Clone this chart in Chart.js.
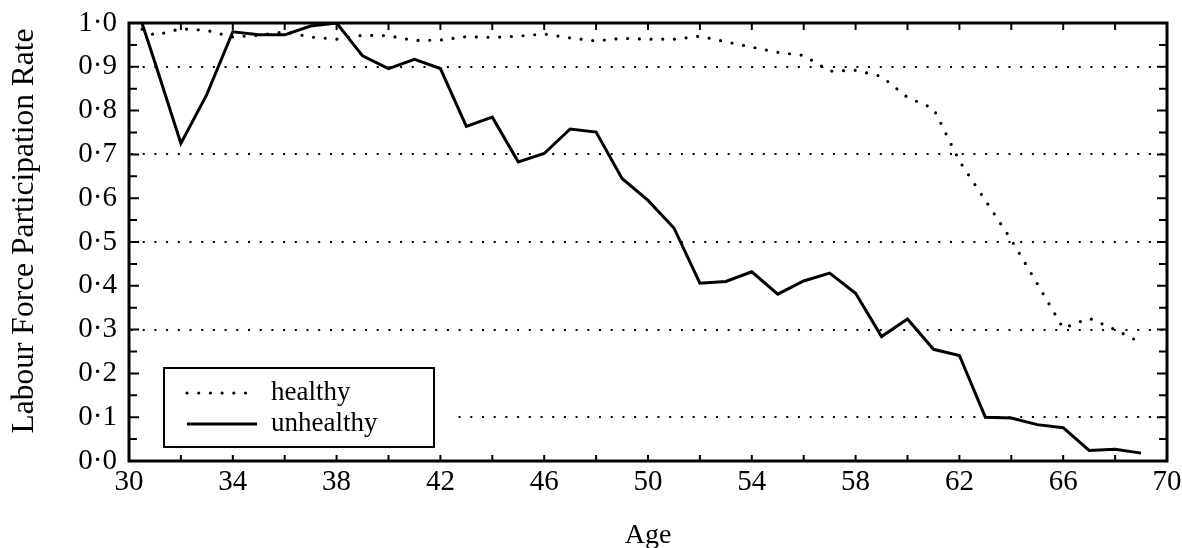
<!DOCTYPE html>
<html>
<head>
<meta charset="utf-8">
<title>Labour force participation by age</title>
<script src="https://cdn.jsdelivr.net/npm/chart.js@4.4.1/dist/chart.umd.min.js"></script>
<style>
  html, body { margin: 0; padding: 0; background: #fff; }
  #wrap { width: 1182px; height: 548px; }
</style>
</head>
<body>
<div id="wrap"><canvas id="chart" width="1182" height="548"></canvas></div>
<script>
// ---- Data ----
const ages = [30.5, 31, 32, 33, 34, 35, 36, 37, 38, 39, 40, 41, 42, 43, 44, 45, 46, 47, 48, 49,
  50, 51, 52, 53, 54, 55, 56, 57, 58, 59, 60, 61, 62, 63, 64, 65, 66, 67, 68, 69];
const healthy = [0.986, 0.972, 0.987, 0.983, 0.968, 0.972, 0.980, 0.968, 0.963, 0.972,
  0.971, 0.960, 0.961, 0.969, 0.967, 0.970, 0.975, 0.966, 0.959, 0.965,
  0.963, 0.963, 0.970, 0.957, 0.945, 0.933, 0.926, 0.890, 0.892, 0.878,
  0.830, 0.805, 0.685, 0.595, 0.505, 0.405, 0.303, 0.326, 0.300, 0.270];
const unhealthy = [1.0, 0.910, 0.725, 0.837, 0.980, 0.973, 0.973, 0.993, 1.0, 0.925,
  0.896, 0.917, 0.896, 0.764, 0.785, 0.683, 0.702, 0.758, 0.751, 0.645,
  0.595, 0.532, 0.406, 0.410, 0.432, 0.381, 0.411, 0.429, 0.383, 0.284,
  0.324, 0.255, 0.241, 0.100, 0.098, 0.083, 0.076, 0.024, 0.027, 0.018];
const seriesLabels = ['healthy', 'unhealthy'];
const xTickLabels = [30, 34, 38, 42, 46, 50, 54, 58, 62, 66, 70];
const yTickLabels = [0, 0.1, 0.2, 0.3, 0.4, 0.5, 0.6, 0.7, 0.8, 0.9, 1.0];
const dottedGrid = [0.9, 0.7, 0.5, 0.3, 0.1];

const FONT = "'Liberation Serif', 'Times New Roman', serif";

const toPoints = (ys) => ages.map((a, i) => ({ x: a, y: ys[i] }));
const near = (v, list) => list.some((g) => Math.abs(g - v) < 1e-6);

// frame, inward ticks and the boxed legend (drawn over the data like the print)
const frameAndLegend = {
  id: 'frameAndLegend',
  afterDatasetsDraw(chart) {
    const { ctx, chartArea: a, scales: { x, y } } = chart;
    ctx.save();

    // legend box; white fill also keeps the 0.1 grid dots off it
    ctx.fillStyle = '#fff';
    ctx.fillRect(a.left + 2, 366, 452 - a.left - 2, 84);
    ctx.strokeStyle = '#000';
    ctx.lineWidth = 2;
    ctx.strokeRect(164, 368, 270, 79);
    chart.data.datasets.forEach((ds, i) => {
      const ly = 393 + i * 31;
      ctx.beginPath();
      ctx.lineWidth = ds.borderWidth;
      ctx.setLineDash(ds.borderDash || []);
      ctx.lineCap = ds.borderCapStyle || 'butt';
      ctx.moveTo(187, ly);
      ctx.lineTo(257, ly);
      ctx.stroke();
      ctx.setLineDash([]);
      ctx.lineCap = 'butt';
      ctx.fillStyle = '#000';
      ctx.font = `27px ${FONT}`;
      ctx.textBaseline = 'alphabetic';
      ctx.fillText(ds.label, 271, ly + 7);
    });

    // tick marks point into the plot on all four sides
    ctx.lineWidth = 2;
    ctx.beginPath();
    x.ticks.forEach((t) => {
      const px = x.getPixelForValue(t.value);
      ctx.moveTo(px, a.bottom);
      ctx.lineTo(px, a.bottom - 6);
      ctx.moveTo(px, a.top);
      ctx.lineTo(px, a.top + 7);
    });
    y.ticks.forEach((t) => {
      const py = y.getPixelForValue(t.value);
      const len = near(t.value, yTickLabels) ? 10 : 8;
      ctx.moveTo(a.left, py);
      ctx.lineTo(a.left + len, py);
      ctx.moveTo(a.right, py);
      ctx.lineTo(a.right - len, py);
    });
    ctx.stroke();

    ctx.lineWidth = 3;
    ctx.strokeRect(a.left, a.top, a.right - a.left, a.bottom - a.top);
    ctx.restore();
  },
};

new Chart(document.getElementById('chart'), {
  type: 'line',
  data: {
    datasets: [
      {
        label: seriesLabels[0],
        data: toPoints(healthy),
        borderColor: '#000',
        borderWidth: 3.2,
        borderDash: [0, 11.7],
        borderCapStyle: 'round',
        pointRadius: 0,
        tension: 0,
        fill: false,
      },
      {
        label: seriesLabels[1],
        data: toPoints(unhealthy),
        borderColor: '#000',
        borderWidth: 3,
        pointRadius: 0,
        tension: 0,
        fill: false,
      },
    ],
  },
  options: {
    responsive: false,
    animation: false,
    devicePixelRatio: 1,
    layout: { padding: { top: 23, right: 15, left: 0, bottom: 0 } },
    plugins: { legend: { display: false }, tooltip: { enabled: false } },
    scales: {
      x: {
        type: 'linear',
        min: 30,
        max: 70,
        afterFit: (s) => {
          s.height = 87;
          s.paddingLeft = 0;
          s.paddingRight = 0;
        },
        ticks: {
          stepSize: 2,
          autoSkip: false,
          maxRotation: 0,
          padding: 4,
          color: '#000',
          font: { family: FONT, size: 29 },
          callback: (v) => (xTickLabels.includes(v) ? String(v) : ''),
        },
        grid: { display: false, drawTicks: false },
        border: { display: false },
        title: {
          display: true,
          text: 'Age',
          color: '#000',
          font: { family: FONT, size: 28, lineHeight: 0.85 },
          padding: 0,
        },
      },
      y: {
        min: 0,
        max: 1,
        afterFit: (s) => {
          s.width = 129;
          s.paddingTop = 0;
          s.paddingBottom = 0;
        },
        ticks: {
          stepSize: 0.05,
          autoSkip: false,
          padding: 12,
          color: '#000',
          font: { family: FONT, size: 29 },
          callback: (v) => (near(v, yTickLabels) ? v.toFixed(1).replace('.', '\u00b7') : ''),
        },
        grid: {
          drawTicks: false,
          lineWidth: 2,
          color: (c) => (c.tick && near(c.tick.value, dottedGrid) ? '#000' : 'rgba(0,0,0,0)'),
        },
        border: { display: false, dash: [2, 9.7], dashOffset: -2 },
        title: {
          display: true,
          // leading spaces nudge the centred title up, as in the print
          text: '\u2002\u2009Labour Force Participation Rate',
          color: '#000',
          font: { family: FONT, size: 31.5, lineHeight: 1 },
          padding: { top: 9, bottom: 0 },
        },
      },
    },
  },
  plugins: [frameAndLegend],
});
</script>
</body>
</html>
